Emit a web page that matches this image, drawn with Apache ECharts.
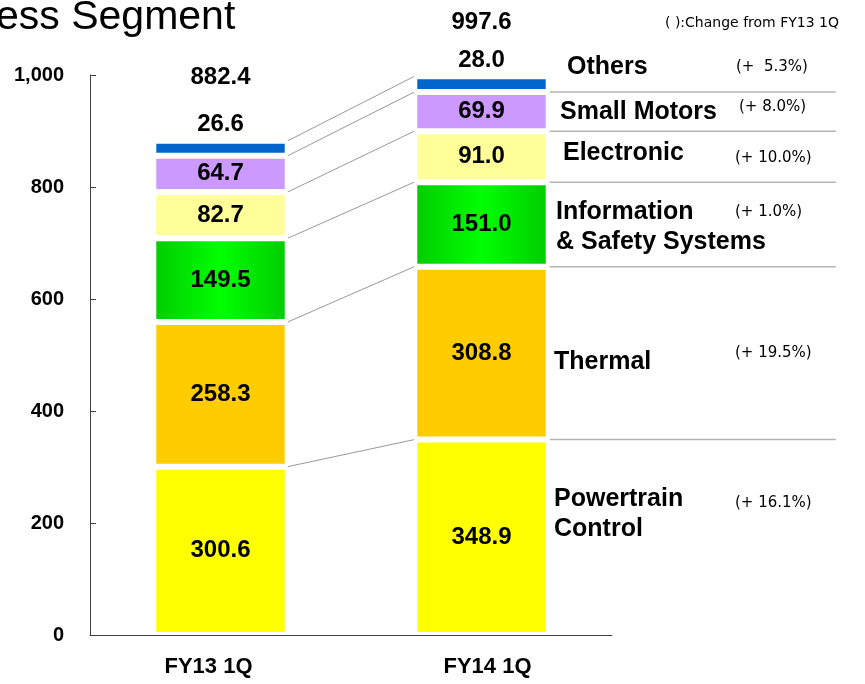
<!DOCTYPE html>
<html>
<head>
<meta charset="utf-8">
<script src="https://cdn.jsdelivr.net/npm/echarts@6/dist/echarts.min.js"></script>
<style>html,body{margin:0;padding:0;background:#fff}#chart{width:865px;height:684px}</style>
</head>
<body>
<div id="chart"></div>
<script>
// data
var categories = ['FY13 1Q', 'FY14 1Q'];
var segmentNames = ['Powertrain\nControl', 'Thermal', 'Information\n& Safety Systems', 'Electronic', 'Small Motors', 'Others'];
var fy13Values = [300.6, 258.3, 149.5, 82.7, 64.7, 26.6];
var fy14Values = [348.9, 308.8, 151.0, 91.0, 69.9, 28.0];
var totals = [882.4, 997.6];
var changes = ['(+ 16.1%)', '(+ 19.5%)', '(+ 1.0%)', '(+ 10.0%)', '(+ 8.0%)', '(+  5.3%)'];

// style
var segmentColors = [
    '#ffff00',
    '#ffcc00',
    {type: 'linear', x: 0, y: 0, x2: 1, y2: 0, colorStops: [
        {offset: 0, color: '#00cc00'}, {offset: 0.5, color: '#00ff00'}, {offset: 1, color: '#00cc00'}]},
    '#ffff99',
    '#cc99ff',
    '#0066cc'
];
var barRatio = 0.515;
var latin = '"Liberation Sans", Arial, sans-serif';
var numFont = '"Liberation Sans", Arial, sans-serif';
var noteFont = '"DejaVu Sans", sans-serif';
var nameLayout = [[554, 514], [554, 362], [556, 227], [563, 153], [560, 112], [567, 67]];
var changeLayout = [[735, 503], [735, 353], [735, 212], [735, 158], [739, 107], [736, 67]];
var totalOffsets = [-51, -41];
var catLabelPad = [[0, 24, 0, 0], [0, 0, 0, 12]];

// 累計（区切り線用）
var boundaries = [];
var c13 = 0, c14 = 0;
for (var i = 0; i < fy13Values.length; i++) {
    c13 += fy13Values[i];
    c14 += fy14Values[i];
    boundaries.push([0, c13, c14, i]);
}

function renderLink(params, api) {
    var p13 = api.coord([0, api.value(1)]);
    var p14 = api.coord([1, api.value(2)]);
    var band = api.size([1, 0])[0];
    var half = band * barRatio / 2;
    var children = [{
        type: 'line',
        shape: {x1: p13[0] + half, y1: p13[1], x2: p14[0] - half, y2: p14[1]},
        style: {stroke: '#999', lineWidth: 1}
    }];
    if (api.value(3) < fy13Values.length - 1) {
        children.push({
            type: 'line',
            shape: {x1: p14[0] + half + 1, y1: p14[1], x2: p14[0] + half + band * 1.1, y2: p14[1]},
            style: {stroke: '#b4b4b4', lineWidth: 1.5}
        });
    }
    return {type: 'group', children: children};
}

var series = segmentNames.map(function (name, i) {
    return {
        name: name,
        type: 'bar',
        stack: 'total',
        barWidth: (barRatio * 100) + '%',
        itemStyle: {color: segmentColors[i], borderColor: '#fff', borderWidth: 3},
        label: {
            show: true,
            position: i === segmentNames.length - 1 ? 'top' : 'inside',
            distance: 4,
            color: '#000',
            fontSize: 24,
            fontWeight: 'bold',
            fontFamily: numFont,
            formatter: function (p) { return p.value.toFixed(1); }
        },
        data: [fy13Values[i], fy14Values[i]]
    };
});

series.push({
    type: 'custom',
    silent: true,
    renderItem: renderLink,
    encode: {x: 0, y: [1, 2]},
    data: boundaries
});

// 合計ラベル
series.push({
    type: 'scatter',
    silent: true,
    symbolSize: 1,
    itemStyle: {color: 'rgba(255,255,255,0)', opacity: 1},
    label: {
        show: true,
        position: 'top',
        distance: 0,
        color: '#000',
        fontSize: 24,
        fontWeight: 'bold',
        fontFamily: numFont,
        formatter: function (p) { return p.value.toFixed(1); }
    },
    data: totals.map(function (t, i) {
        return {value: t, label: {offset: [0, totalOffsets[i]]}};
    })
});

var graphics = [
    {type: 'text', x: -4, y: 18, style: {text: 'ess Segment', fontSize: 41, fontFamily: latin, fill: '#000', verticalAlign: 'middle'}},
    {type: 'text', x: 665, y: 23, style: {text: '( ):Change from FY13 1Q', fontSize: 14, fontFamily: noteFont, fill: '#000', verticalAlign: 'middle'}}
];
segmentNames.forEach(function (name, i) {
    graphics.push({type: 'text', x: nameLayout[i][0], y: nameLayout[i][1], style: {
        text: name, fontSize: 25, fontWeight: 'bold', fontFamily: latin,
        fill: '#000', verticalAlign: 'middle', lineHeight: 30}});
    graphics.push({type: 'text', x: changeLayout[i][0], y: changeLayout[i][1], style: {
        text: changes[i], fontSize: 15, fontFamily: noteFont,
        fill: '#000', verticalAlign: 'middle'}});
});

var option = {
    animation: false,
    backgroundColor: '#fff',
    grid: {left: 90, right: 253, top: 75, bottom: 49},
    xAxis: {
        type: 'category',
        data: categories.map(function (c, i) {
            return {value: c, textStyle: {padding: catLabelPad[i]}};
        }),
        axisLine: {lineStyle: {color: '#404040', width: 1}},
        axisTick: {inside: true, length: 8, lineStyle: {color: '#404040'}},
        axisLabel: {color: '#000', fontSize: 22, fontWeight: 'bold', margin: 21, fontFamily: latin}
    },
    yAxis: {
        type: 'value',
        min: 0,
        max: 1000,
        interval: 200,
        axisLine: {show: true, lineStyle: {color: '#404040', width: 1}},
        axisTick: {show: true, inside: true, length: 6, lineStyle: {color: '#404040'}},
        splitLine: {show: false},
        axisLabel: {
            color: '#000', fontSize: 20, fontWeight: 'bold', margin: 26, fontFamily: latin,
            formatter: function (v) { return echarts.format.addCommas(v); }
        }
    },
    graphic: graphics,
    series: series
};

echarts.init(document.getElementById('chart')).setOption(option);
</script>
</body>
</html>
